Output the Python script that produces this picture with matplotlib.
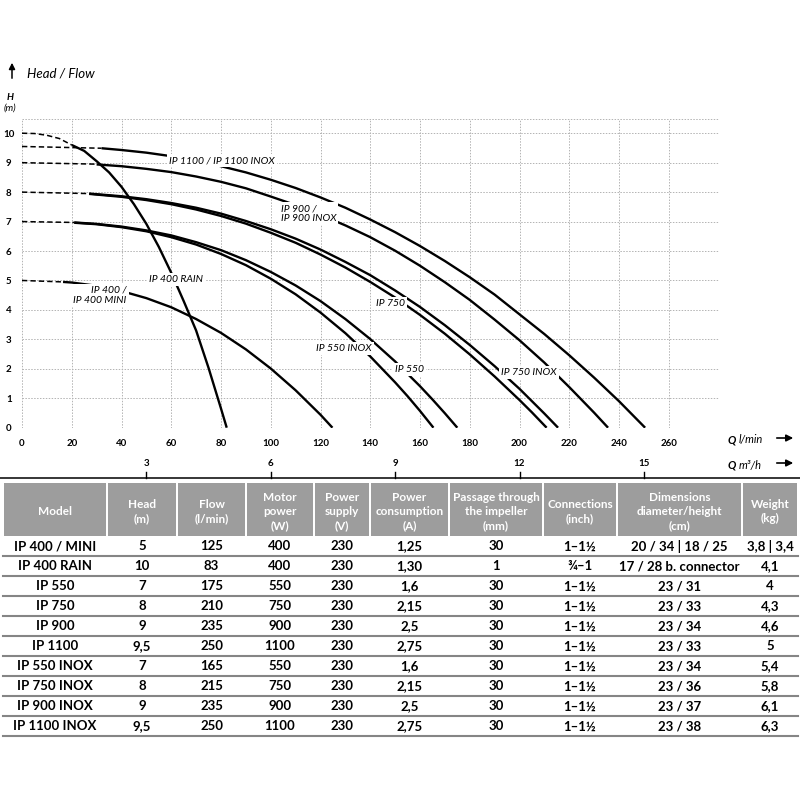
import matplotlib.pyplot as plt
from matplotlib.transforms import blended_transform_factory
from matplotlib.patches import Rectangle

plt.rcParams['font.family'] = ['Lato', 'DejaVu Sans']

# --- pump curves, flow Q (l/min) -> head H (m) ---
# dashed part = extrapolated start at zero flow
q_400_d = [0, 16.5]
h_400_d = [5.0, 4.95]
q_400 = [16.5, 20, 30, 40, 50, 60, 70, 80, 90, 100, 110, 120, 124.8]
h_400 = [4.95, 4.93, 4.82, 4.64, 4.40, 4.09, 3.69, 3.22, 2.66, 2.01, 1.27, 0.44, 0]

q_rain_d = [0, 5, 10, 15, 20]
h_rain_d = [10, 9.99, 9.93, 9.82, 9.60]
q_rain = [20, 25, 30, 35, 40, 45, 50, 55, 60, 65, 70, 75, 80, 82.3]
h_rain = [9.60, 9.40, 9.05, 8.67, 8.18, 7.59, 6.92, 6.14, 5.26, 4.30, 3.30, 2.03, 0.65, 0]

q_7_d = [0, 21]
h_7_d = [7.0, 6.97]
q_550i = [21, 30, 40, 50, 60, 70, 80, 90, 100, 110, 120, 130, 140, 150, 155, 160, 165.4]
h_550i = [6.96, 6.91, 6.81, 6.67, 6.47, 6.22, 5.90, 5.52, 5.06, 4.53, 3.91, 3.21, 2.42, 1.54, 1.07, 0.57, 0]
q_550 = [21, 30, 40, 50, 60, 70, 80, 90, 100, 110, 120, 130, 140, 150, 160, 165, 170, 175]
h_550 = [6.97, 6.92, 6.83, 6.70, 6.53, 6.30, 6.03, 5.69, 5.29, 4.83, 4.30, 3.69, 3.01, 2.25, 1.41, 0.96, 0.49, 0]

q_8_d = [0, 27]
h_8_d = [8.0, 7.95]
q_750 = [27, 40, 50, 60, 70, 80, 90, 100, 110, 120, 130, 140, 150, 160, 170, 180, 190, 200, 205, 210.9]
h_750 = [7.94, 7.84, 7.73, 7.59, 7.41, 7.19, 6.93, 6.62, 6.28, 5.88, 5.44, 4.95, 4.42, 3.83, 3.19, 2.49, 1.74, 0.94, 0.52, 0]
q_750i = [27, 40, 50, 60, 70, 80, 90, 100, 110, 120, 130, 140, 150, 160, 170, 180, 190, 200, 210, 215.5]
h_750i = [7.95, 7.86, 7.76, 7.63, 7.47, 7.27, 7.02, 6.74, 6.42, 6.05, 5.63, 5.18, 4.66, 4.10, 3.48, 2.81, 2.09, 1.32, 0.48, 0]

q_900_d = [0, 30]
h_900_d = [9.0, 8.95]
q_900 = [30, 40, 50, 60, 70, 80, 90, 100, 110, 120, 130, 140, 150, 160, 170, 180, 190, 200, 210, 220, 230, 235.6]
h_900 = [8.94, 8.88, 8.79, 8.68, 8.53, 8.35, 8.13, 7.85, 7.56, 7.23, 6.87, 6.47, 6.01, 5.50, 4.94, 4.34, 3.67, 2.97, 2.21, 1.38, 0.51, 0]

q_1100_d = [0, 32]
h_1100_d = [9.55, 9.49]
q_1100 = [32, 40, 50, 60, 70, 80, 90, 100, 110, 120, 130, 140, 150, 160, 170, 180, 190, 200, 210, 220, 230, 240, 250.5]
h_1100 = [9.49, 9.43, 9.34, 9.22, 9.07, 8.88, 8.67, 8.42, 8.14, 7.82, 7.47, 7.07, 6.64, 6.17, 5.66, 5.11, 4.52, 3.85, 3.18, 2.46, 1.70, 0.90, 0]

curve_names = ['IP 1100 / IP 1100 INOX', 'IP 900 /\nIP 900 INOX', 'IP 750', 'IP 750 INOX',
               'IP 550', 'IP 550 INOX', 'IP 400 RAIN', 'IP 400 /\nIP 400 MINI']
# label anchor (Q, H) and alignment
label_pos = [(80.3, 9.06, 'center'), (104, 7.27, 'left'), (148, 4.22, 'center'),
             (203.9, 1.87, 'center'), (155.6, 1.99, 'center'), (129.4, 2.70, 'center'),
             (61.8, 5.02, 'center'), (42, 4.49, 'right')]

q_ticks = list(range(0, 261, 20))
h_ticks = list(range(0, 11))
m3h_ticks = [3, 6, 9, 12, 15]

# --- table ---
col_heads = ['Model', 'Head\n(m)', 'Flow\n(l/min)', 'Motor\npower\n(W)', 'Power\nsupply\n(V)',
             'Power\nconsumption\n(A)', 'Passage through\nthe impeller\n(mm)', 'Connections\n(inch)',
             'Dimensions\ndiameter/height\n(cm)', 'Weight\n(kg)']
models = ['IP 400 / MINI', 'IP 400 RAIN', 'IP 550', 'IP 750', 'IP 900', 'IP 1100',
          'IP 550 INOX', 'IP 750 INOX', 'IP 900 INOX', 'IP 1100 INOX']
head = ['5', '10', '7', '8', '9', '9,5', '7', '8', '9', '9,5']
flow = ['125', '83', '175', '210', '235', '250', '165', '215', '235', '250']
motor = ['400', '400', '550', '750', '900', '1100', '550', '750', '900', '1100']
supply = ['230'] * 10
consumption = ['1,25', '1,30', '1,6', '2,15', '2,5', '2,75', '1,6', '2,15', '2,5', '2,75']
passage = ['30', '1', '30', '30', '30', '30', '30', '30', '30', '30']
connections = ['1–1½', '¾–1', '1–1½', '1–1½', '1–1½', '1–1½', '1–1½', '1–1½', '1–1½', '1–1½']
dimensions = ['20 / 34 | 18 / 25', '17 / 28 b. connector', '23 / 31', '23 / 33', '23 / 34',
              '23 / 33', '23 / 34', '23 / 36', '23 / 37', '23 / 38']
weight = ['3,8 | 3,4', '4,1', '4', '4,3', '4,6', '5', '5,4', '5,8', '6,1', '6,3']

fig = plt.figure(figsize=(8, 8), dpi=100)

# overlay in pixel coordinates for everything around the chart
ov = fig.add_axes([0, 0, 1, 1], zorder=0)
ov.set_xlim(0, 800)
ov.set_ylim(800, 0)
ov.axis('off')

ax = fig.add_axes([22 / 800, 1 - 427.7 / 800, 696.5 / 800, 309.2 / 800], zorder=1)
ax.patch.set_alpha(0)
ax.set_xlim(0, 280)
ax.set_ylim(0, 10.5)
ax.set_xticks(list(range(0, 281, 20)))
ax.set_xticklabels([str(v) for v in q_ticks] + [''])
ax.set_yticks(h_ticks + [10.5])
ax.set_yticklabels([str(v) for v in h_ticks] + [''])
for s in ax.spines.values():
    s.set_visible(False)
ax.tick_params(length=0, labelsize=7)
ax.tick_params(axis='x', pad=8)
ax.tick_params(axis='y', pad=9.5)
for t in ax.get_xticklabels() + ax.get_yticklabels():
    t.set_fontweight('bold')
for t in ax.get_yticklabels():
    t.set_horizontalalignment('center')
ax.grid(True, color='#b3b3b3', lw=0.7, linestyle=(0, (1.5, 1.5)))
ax.set_axisbelow(True)

solid = dict(color='black', lw=1.7, solid_capstyle='butt', zorder=3)
dash = dict(color='black', lw=1.1, linestyle=(0, (3.5, 2)), zorder=3)
for qd, hd in [(q_400_d, h_400_d), (q_rain_d, h_rain_d), (q_7_d, h_7_d), (q_8_d, h_8_d),
               (q_900_d, h_900_d), (q_1100_d, h_1100_d)]:
    ax.plot(qd, hd, **dash)
for q, h in [(q_400, h_400), (q_rain, h_rain), (q_550i, h_550i), (q_550, h_550),
             (q_750, h_750), (q_750i, h_750i), (q_900, h_900), (q_1100, h_1100)]:
    ax.plot(q, h, **solid)

for name, (x, y, ha) in zip(curve_names, label_pos):
    ax.text(x, y, name, ha=ha, va='center', fontsize=7.5, style='italic',
            multialignment=ha, linespacing=1.15, zorder=5,
            bbox=dict(boxstyle='square,pad=0.2', fc='white', ec='none'))

# top-left axis caption
ov.annotate('', xy=(12, 60), xytext=(12, 81),
            arrowprops=dict(arrowstyle='-|>', color='black', lw=1.1, mutation_scale=9))
ov.text(27, 74, 'Head / Flow', ha='left', va='center', fontsize=9.5, style='italic')
ov.text(10, 97, 'H', ha='center', va='center', fontsize=7, style='italic', fontweight='bold')
ov.text(10, 108, '(m)', ha='center', va='center', fontsize=7, style='italic')

# flow unit captions
ov.text(728, 440, 'Q', ha='left', va='center', fontsize=8, style='italic', fontweight='bold')
ov.text(739, 440, 'l/min', ha='left', va='center', fontsize=8, style='italic')
ov.text(728, 465, 'Q', ha='left', va='center', fontsize=8, style='italic', fontweight='bold')
ov.text(739, 465, 'm³/h', ha='left', va='center', fontsize=8, style='italic')
for yy in (438, 463):
    ov.annotate('', xy=(796, yy), xytext=(774, yy),
                arrowprops=dict(arrowstyle='-|>', color='black', lw=1.2, mutation_scale=10))

# second flow scale in m3/h
ov.plot([0, 800], [478, 478], color='black', lw=1.1)
tr = blended_transform_factory(ax.transData, ov.transData)
for m in m3h_ticks:
    qv = m * 1000 / 60
    ov.plot([qv, qv], [472, 478], color='black', lw=1, transform=tr)
    ov.text(qv, 464, str(m), ha='center', va='center', fontsize=7, fontweight='bold', transform=tr)

# table
edges = [3, 107, 177, 246, 314, 370, 449, 543, 617, 742, 798]
head_top, head_bot, row_h = 483, 536, 20
for i, label in enumerate(col_heads):
    ov.add_patch(Rectangle((edges[i] + 1, head_top), edges[i + 1] - edges[i] - 2,
                           head_bot - head_top, fc='#9d9d9d', ec='none'))
    ov.text((edges[i] + edges[i + 1]) / 2, 511.5, label, ha='center', va='center',
            color='white', fontsize=8.5, fontweight='bold', linespacing=1.3)

table_cols = [models, head, flow, motor, supply, consumption, passage, connections, dimensions, weight]
for r in range(len(models)):
    yc = head_bot + row_h * r + row_h / 2 + 0.5
    for c, col in enumerate(table_cols):
        ov.text((edges[c] + edges[c + 1]) / 2, yc, col[r], ha='center', va='center',
                fontsize=9.5, fontweight='bold')
    yl = head_bot + row_h * (r + 1)
    ov.plot([edges[0], edges[-1]], [yl, yl], color='#858585', lw=1.5)

fig.savefig('out.png', dpi=100, facecolor='white')
